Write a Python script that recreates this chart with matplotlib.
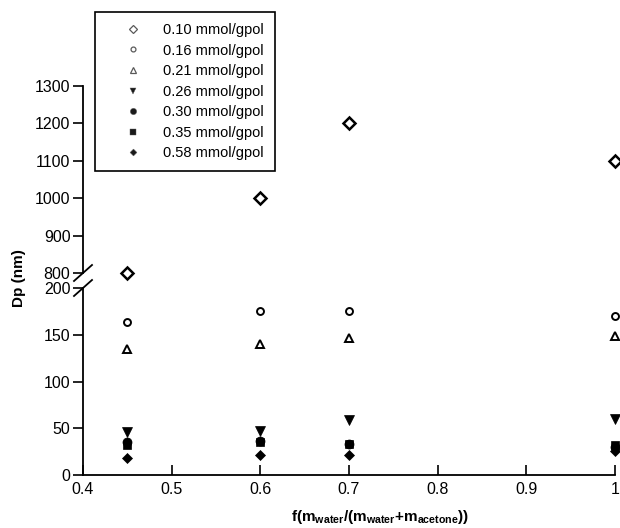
import numpy as np
import matplotlib
matplotlib.use('Agg')
import matplotlib.pyplot as plt
from matplotlib.lines import Line2D

plt.rcParams.update({
    'font.family': ['Liberation Sans', 'DejaVu Sans'],
    'font.size': 10.5,
    'mathtext.fontset': 'custom',
    'mathtext.rm': 'Liberation Sans:bold',
    'mathtext.it': 'Liberation Sans:bold',
    'mathtext.bf': 'Liberation Sans:bold',
})

# water mass fraction
x_vals = [0.45, 0.6, 0.7, 1.0]

labels = ['0.10 mmol/gpol', '0.16 mmol/gpol', '0.21 mmol/gpol', '0.26 mmol/gpol',
          '0.30 mmol/gpol', '0.35 mmol/gpol', '0.58 mmol/gpol']
dp_010 = [800, 1000, 1200, 1100]
dp_016 = [164, 175, 175, 170]
dp_021 = [135, 140, 146, 149]
dp_026 = [46, 47, 59, 60]
dp_030 = [35, 36, 33, 30]
dp_035 = [32, 35, 33, 32]
dp_058 = [18, 21, 21, 26]

series = [dp_010, dp_016, dp_021, dp_026, dp_030, dp_035, dp_058]
styles = [
    dict(marker='D', ms=6.0, mfc='white', mew=1.8),
    dict(marker='o', ms=5.0, mfc='white', mew=1.4),
    dict(marker='^', ms=5.5, mfc='white', mew=1.4),
    dict(marker='v', ms=7.0, mfc='black', mew=0.5),
    dict(marker='o', ms=6.5, mfc='black', mew=0.5),
    dict(marker='s', ms=6.0, mfc='black', mew=0.5),
    dict(marker='D', ms=5.0, mfc='black', mew=0.5),
]

fig = plt.figure(figsize=(6.2, 5.28), dpi=100)
W, H = 620, 528
left, right = 83 / W, 615 / W
ax_lo = fig.add_axes([left, 1 - 475 / H, right - left, (475 - 288) / H])
ax_hi = fig.add_axes([left, 1 - 273 / H, right - left, (273 - 86) / H])
ax_lo.set_ylim(0, 200)
ax_hi.set_ylim(800, 1300)

handles = []
for vals, st, lab in zip(series, styles, labels):
    for ax in (ax_lo, ax_hi):
        lo, hi = ax.get_ylim()
        pts = [(x, v) for x, v in zip(x_vals, vals) if lo <= v <= hi]
        if pts:
            xs, ys = zip(*pts)
            ax.plot(xs, ys, ls='none', color='black', mec='black', clip_on=False, **st)
    handles.append(Line2D([], [], ls='none', color='black', mec='0.35',
                          marker=st['marker'], ms=st['ms'] * 0.7,
                          mfc=st['mfc'] if st['mfc'] == 'white' else '0.1',
                          mew=0.9 if st['mfc'] == 'white' else 0.3, label=lab))

for ax in (ax_lo, ax_hi):
    ax.set_xlim(0.4, 1.0)
    ax.spines['top'].set_visible(False)
    ax.spines['right'].set_visible(False)
    ax.spines['left'].set_linewidth(1.3)
    ax.spines['bottom'].set_linewidth(1.3)
    ax.tick_params(axis='y', direction='out', length=7, width=1.2, labelsize=11.5, pad=2)
    ax.tick_params(axis='x', direction='in', length=7, width=1.2, labelsize=11.5, pad=5)

ax_lo.set_yticks([0, 50, 100, 150, 200])
ax_lo.set_xticks([0.4, 0.5, 0.6, 0.7, 0.8, 0.9, 1.0])
ax_lo.set_xticklabels(['0.4', '0.5', '0.6', '0.7', '0.8', '0.9', '1'])
ax_hi.set_yticks([800, 900, 1000, 1100, 1200, 1300])
ax_hi.spines['bottom'].set_visible(False)
ax_hi.tick_params(axis='x', bottom=False, labelbottom=False)

# break marks on the left spine
for yb in (273, 288):
    fig.add_artist(Line2D([(left * W - 9) / W, (left * W + 9) / W],
                          [1 - (yb + 8) / H, 1 - (yb - 8) / H],
                          transform=fig.transFigure, color='black', lw=1.3))

fig.text(0.030, 1 - 278 / H, 'Dp (nm)', rotation=90, ha='center', va='center',
         fontweight='bold', fontsize=11)
fig.text(380 / W, 1 - 517 / H,
         r'f(m$_{water}$/(m$_{water}$+m$_{acetone}$))',
         ha='center', va='center', fontweight='bold', fontsize=11)

leg = fig.legend(handles=handles, loc='upper left',
                 bbox_to_anchor=(95 / W, 1 - 12 / H), fancybox=False,
                 edgecolor='black', framealpha=1, fontsize=10.5,
                 labelspacing=0.45, handletextpad=0.2, borderpad=0.75,
                 handlelength=3.7, borderaxespad=0)
leg.get_frame().set_linewidth(1.2)

fig.savefig('out.png', dpi=100, facecolor='white')
